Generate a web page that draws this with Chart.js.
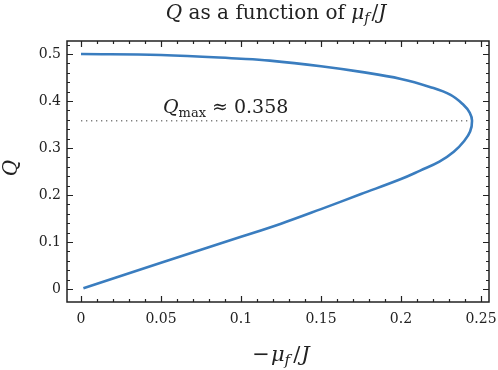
<!DOCTYPE html>
<html>
<head>
<meta charset="utf-8">
<script src="https://cdn.jsdelivr.net/npm/chart.js@4.4.1/dist/chart.umd.min.js"></script>
<style>
  html, body { margin: 0; padding: 0; background: #fff; }
  #wrap { width: 498px; height: 370px; }
</style>
</head>
<body>
<div id="wrap"><canvas id="grafica"></canvas></div>
<script>
// Curva Q frente a -mu_f/J: rama superior -> punta -> rama inferior
const curvaX = [0.0, 0.05, 0.1, 0.118, 0.15, 0.175, 0.2, 0.218, 0.231, 0.239, 0.243, 0.2444,
                0.2432, 0.2395, 0.233, 0.224, 0.212, 0.2, 0.175, 0.15, 0.125, 0.1, 0.05, 0.0015];
const curvaQ = [0.500, 0.498, 0.490, 0.486, 0.474, 0.462, 0.447, 0.430, 0.413, 0.392, 0.375, 0.358,
                0.335, 0.315, 0.292, 0.271, 0.252, 0.234, 0.202, 0.170, 0.139, 0.111, 0.056, 0.0015];

// Línea punteada de Q máximo
const qMax = 0.358;
const qMaxX = [0.0, 0.2444];

// Etiquetas de los ejes
const xTicks = [0, 0.05, 0.1, 0.15, 0.2, 0.25];
const xTickLabels = ['0', '0.05', '0.1', '0.15', '0.2', '0.25'];
const yTicks = [0, 0.1, 0.2, 0.3, 0.4, 0.5];
const yTickLabels = ['0', '0.1', '0.2', '0.3', '0.4', '0.5'];

const fuente = '"DejaVu Serif", "Liberation Serif", serif';

// Dibuja texto con partes en cursiva / subíndice (gap = espacio extra en px)
function textoMixto(ctx, partes, x, y, align) {
    let ancho = 0;
    partes.forEach((p) => {
        ctx.font = (p.it ? 'italic ' : '') + p.size + 'px ' + fuente;
        p.w = ctx.measureText(p.t).width + (p.gap || 0);
        ancho += p.w;
    });
    let cx = align === 'center' ? x - ancho / 2 : x;
    ctx.textAlign = 'left';
    ctx.textBaseline = 'alphabetic';
    partes.forEach((p) => {
        ctx.font = (p.it ? 'italic ' : '') + p.size + 'px ' + fuente;
        ctx.fillText(p.t, cx, y + (p.dy || 0));
        cx += p.w;
    });
}

const marcoPlugin = {
    id: 'marco',
    afterDatasetsDraw(chart) {
        const ctx = chart.ctx;
        const a = chart.chartArea;
        const sx = chart.scales.x, sy = chart.scales.y;
        ctx.save();
        ctx.strokeStyle = '#222';
        ctx.lineWidth = 1.5;
        ctx.strokeRect(a.left, a.top, a.right - a.left, a.bottom - a.top);
        ctx.lineWidth = 1.2;
        ctx.beginPath();
        // ticks del eje x (mayores y menores), hacia dentro, arriba y abajo
        for (let i = 0; i <= 25; i++) {
            const px = Math.round(sx.getPixelForValue(i / 100)) + 0.5;
            const len = i % 5 === 0 ? 6 : 3;
            ctx.moveTo(px, a.bottom); ctx.lineTo(px, a.bottom - len);
            ctx.moveTo(px, a.top); ctx.lineTo(px, a.top + len);
        }
        // ticks del eje y
        for (let i = 0; i <= 26; i++) {
            const py = Math.round(sy.getPixelForValue(i / 50)) + 0.5;
            const len = i % 5 === 0 ? 6 : 3;
            ctx.moveTo(a.left, py); ctx.lineTo(a.left + len, py);
            ctx.moveTo(a.right, py); ctx.lineTo(a.right - len, py);
        }
        ctx.stroke();

        ctx.fillStyle = '#222';
        // Título
        textoMixto(ctx, [
            { t: 'Q', it: true, size: 20 },
            { t: ' as a function of ', size: 20 },
            { t: 'μ', it: true, size: 20 },
            { t: 'f', it: true, size: 14, dy: 4, gap: 2 },
            { t: '/', size: 20 },
            { t: 'J', it: true, size: 20 }
        ], 276, 19, 'center');
        // Etiqueta eje x
        textoMixto(ctx, [
            { t: '−', size: 21, gap: 1 },
            { t: 'μ', it: true, size: 21 },
            { t: 'f', it: true, size: 15, dy: 4, gap: 3 },
            { t: '/', size: 21, gap: 1 },
            { t: 'J', it: true, size: 21 }
        ], 281, 361, 'center');
        // Etiqueta eje y
        ctx.save();
        ctx.translate(17, 168);
        ctx.rotate(-Math.PI / 2);
        textoMixto(ctx, [{ t: 'Q', it: true, size: 20 }], 0, 0, 'center');
        ctx.restore();
        // Anotación de Q máximo
        textoMixto(ctx, [
            { t: 'Q', it: true, size: 19 },
            { t: 'max', size: 13, dy: 4 },
            { t: ' ≈ 0.358', size: 19 }
        ], 163, 113, 'left');
        ctx.restore();
    }
};

const puntosCurva = curvaX.map((x, i) => ({ x: x, y: curvaQ[i] }));
const puntosMax = qMaxX.map((x) => ({ x: x, y: qMax }));

new Chart(document.getElementById('grafica'), {
    type: 'scatter',
    data: {
        datasets: [
            {
                data: puntosMax,
                showLine: true,
                borderColor: '#808080',
                borderWidth: 1.3,
                borderDash: [1.3, 3.7],
                pointRadius: 0,
                order: 2
            },
            {
                data: puntosCurva,
                showLine: true,
                tension: 0.4,
                borderColor: '#3a7dbf',
                borderWidth: 2.6,
                pointRadius: 0,
                order: 1
            }
        ]
    },
    options: {
        responsive: true,
        maintainAspectRatio: false,
        animation: false,
        layout: { padding: { top: 41, right: 9, left: 0, bottom: 0 } },
        plugins: {
            legend: { display: false },
            tooltip: { enabled: false }
        },
        scales: {
            x: {
                type: 'linear',
                min: -0.00875,
                max: 0.255,
                grid: { display: false, drawTicks: false },
                border: { display: false },
                afterFit: (scale) => { scale.height = 68; scale.paddingLeft = 0; scale.paddingRight = 0; },
                afterBuildTicks: (scale) => { scale.ticks = xTicks.map((v) => ({ value: v })); },
                ticks: {
                    padding: 9,
                    color: '#222',
                    font: { family: fuente, size: 14 },
                    maxRotation: 0,
                    callback: (v) => xTickLabels[xTicks.indexOf(v)]
                }
            },
            y: {
                type: 'linear',
                min: -0.0277,
                max: 0.5277,
                grid: { display: false, drawTicks: false },
                border: { display: false },
                afterFit: (scale) => { scale.width = 67; scale.paddingTop = 0; scale.paddingBottom = 0; },
                afterBuildTicks: (scale) => { scale.ticks = yTicks.map((v) => ({ value: v })); },
                ticks: {
                    padding: 6,
                    color: '#222',
                    font: { family: fuente, size: 14 },
                    callback: (v) => yTickLabels[yTicks.indexOf(v)]
                }
            }
        }
    },
    plugins: [marcoPlugin]
});
</script>
</body>
</html>
